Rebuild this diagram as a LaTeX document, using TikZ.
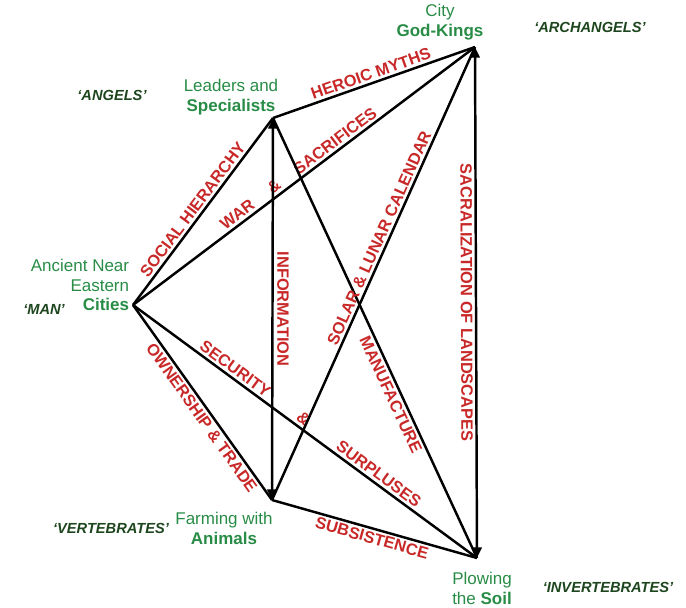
\documentclass[tikz,border=0pt]{standalone}
\usepackage{fontspec}
\setmainfont{Liberation Sans}
\usetikzlibrary{arrows.meta}
\definecolor{vgreen}{RGB}{40,140,70}
\definecolor{dgreen}{RGB}{30,70,30}
\definecolor{lred}{RGB}{200,40,40}

\begin{document}
\begin{tikzpicture}[x=0.03cm,y=-0.03cm,line width=2.1pt,
  vertex/.style={text=vgreen,font=\fontsize{14.5}{17}\selectfont,align=center},
  animal/.style={text=dgreen,font=\fontsize{12.5}{14}\selectfont\bfseries\itshape},
  link/.style={text=lred,font=\fontsize{14}{16}\selectfont\bfseries,sloped,inner sep=2pt},
  both/.style={{Triangle[length=9pt,width=8pt]}-{Triangle[length=9pt,width=8pt]}}]
  \useasboundingbox (0,0) rectangle (686,608);
  \coordinate (cit) at (133,305);
  \coordinate (spe) at (273,118);
  \coordinate (god) at (475,47);
  \coordinate (ani) at (272,500);
  \coordinate (soi) at (477,558);

  \node[vertex,align=right] (tcit) at (80,285) {Ancient Near\\Eastern\\\textbf{Cities}};
  \node[vertex] (tspe) at (231,97) {Leaders and\\\textbf{Specialists}};
  \node[vertex] (tgod) at (440,22) {City\\\textbf{God-Kings}};
  \node[vertex] (tani) at (224,528) {Farming with\\\textbf{Animals}};
  \node[vertex] (tsoi) at (482,588) {Plowing\\the \textbf{Soil}};
  \node[animal] (aman) at (44,309) {`MAN'};
  \node[animal] (aang) at (112,95) {`ANGELS'};
  \node[animal] (aarc) at (590,27) {`ARCHANGELS'};
  \node[animal] (aver) at (111,528) {`VERTEBRATES'};
  \node[animal] (ainv) at (608,587) {`INVERTEBRATES'};

  \draw (cit) -- node[link,above,pos=0.48] {SOCIAL HIERARCHY} (spe);
  \draw (spe) -- node[link,above] {HEROIC MYTHS} (god);
  \draw (cit) -- node[link,above,pos=0.5] {WAR \quad\& \quad SACRIFICES} (god);
  \draw (cit) -- node[link,below,pos=0.55] {OWNERSHIP \& TRADE} (ani);
  \draw (cit) -- node[link,above,pos=0.5] {SECURITY \qquad\& \qquad SURPLUSES} (soi);
  \draw (spe) -- node[link,below,pos=0.62] {MANUFACTURE} (soi);
  \draw (ani) -- node[link,above,pos=0.57] {SOLAR \& LUNAR CALENDAR} (god);
  \draw (ani) -- node[link,below] {SUBSISTENCE} (soi);
  \draw[both] (spe) -- node[text=lred,font=\fontsize{14}{16}\selectfont\bfseries,rotate=-90,anchor=south,inner sep=3pt,pos=0.5] {INFORMATION} (ani);
  \draw[both] (god) -- node[link,below,pos=0.5] {SACRALIZATION OF LANDSCAPES} (soi);
\end{tikzpicture}
\end{document}
